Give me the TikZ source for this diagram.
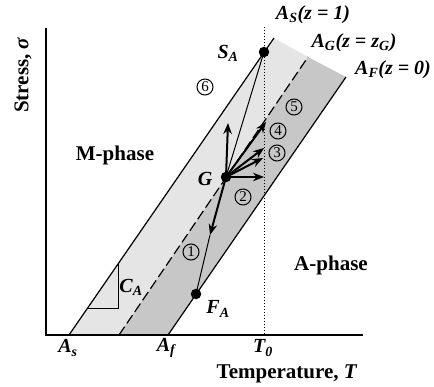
\documentclass[tikz,border=0pt]{standalone}
\usepackage{fontspec}
\setmainfont{Liberation Serif}
\usetikzlibrary{arrows.meta}
\tikzset{
  axis/.style={line width=1.3pt},
  edge/.style={line width=1.2pt},
  arr/.style={line width=2pt,-{Stealth[length=11pt,width=8.5pt]}},
  thin/.style={line width=1pt},
  dotpt/.style={circle,fill=black,inner sep=0pt,minimum size=10.5pt},
  lab/.style={font=\fontsize{20}{20}\selectfont\bfseries\itshape,inner sep=0pt},
  big/.style={font=\fontsize{21}{21}\selectfont\bfseries,inner sep=0pt},
  num/.style={circle,draw,line width=1pt,inner sep=0pt,minimum size=16pt,font=\fontsize{15}{15}\selectfont}
}
\definecolor{lightband}{gray}{0.9}
\definecolor{darkband}{gray}{0.78}
\begin{document}
\begin{tikzpicture}[x=1pt,y=-1pt]
\useasboundingbox (0,0) rectangle (434,387);
% bands
\fill[lightband] (69,335) -- (274,38) -- (308,57) -- (119,335) -- cycle;
\fill[darkband] (119,335) -- (308,57) -- (346,77) -- (168,335) -- cycle;
% lines
\draw[edge] (69,335) -- (274,38);
\draw[edge] (168,335) -- (346,77);
\draw[edge,dash pattern=on 10pt off 4pt] (119,335) -- (308,57);
% T0 dotted
\coordinate (t0top) at (264,27);
\coordinate (t0bot) at (264,335);
\draw[line width=1pt,dotted] (t0top) -- (t0bot);
% axes
\coordinate (ytop) at (46,28);
\coordinate (orig) at (46,335);
\coordinate (xend) at (363,335);
\draw[axis] (ytop) -- (orig) -- (xend);
% slope triangle
\draw[line width=1pt] (87,309) -- (118,309) -- (118,264);
% points
\node[dotpt] (SA) at (264,52) {};
\node[dotpt] (G) at (226,177) {};
\node[dotpt] (FA) at (196,294) {};
% thin lines
\draw[thin] (G.center) -- (SA.center);
\coordinate (p1) at (210,235);
\draw[thin] (p1) -- (FA.center);
% arrows
\coordinate (p2) at (264,177);
\coordinate (p3) at (263,158);
\coordinate (p4) at (264,148);
\coordinate (p5) at (266,122);
\coordinate (p6) at (228,123);
\draw[arr] (G.center) -- (p1);
\draw[arr] (G.center) -- (p2);
\draw[arr] (G.center) -- (p3);
\draw[arr] (G.center) -- (p4);
\draw[arr] (G.center) -- (p5);
\draw[arr] (G.center) -- (p6);
% circled numbers
\node[num] (n1) at (191,252) {1};
\node[num] (n2) at (243,197) {2};
\node[num] (n3) at (277,153) {3};
\node[num] (n4) at (278,131) {4};
\node[num] (n5) at (294,107) {5};
\node[num] (n6) at (205,87) {6};
% labels
\node[lab] (lSA) at (228,53) {S\textsubscript{A}};
\node[lab] (lG) at (205,179) {G};
\node[lab] (lFA) at (218,309) {F\textsubscript{A}};
\node[lab] (lCA) at (131,287) {C\textsubscript{A}};
\node[lab] (lAs) at (68,348) {A\textsubscript{s}};
\node[lab] (lAf) at (166,348) {A\textsubscript{f}};
\node[lab] (lT0) at (263,348) {T\textsubscript{0}};
\node[lab] (lAS) at (313,15) {A\textsubscript{S}(z = 1)};
\node[lab] (lAG) at (354,43) {A\textsubscript{G}(z = z\textsubscript{G})};
\node[lab] (lAF) at (393,70) {A\textsubscript{F}(z = 0)};
\node[big] (mph) at (115,155) {M-phase};
\node[big] (aph) at (331,265) {A-phase};
\node[big] (xl) at (287,374) {Temperature, \textit{T}};
\node[big,rotate=90] (yl) at (23,75) {Stress, \textit{σ}};
\end{tikzpicture}
\end{document}
